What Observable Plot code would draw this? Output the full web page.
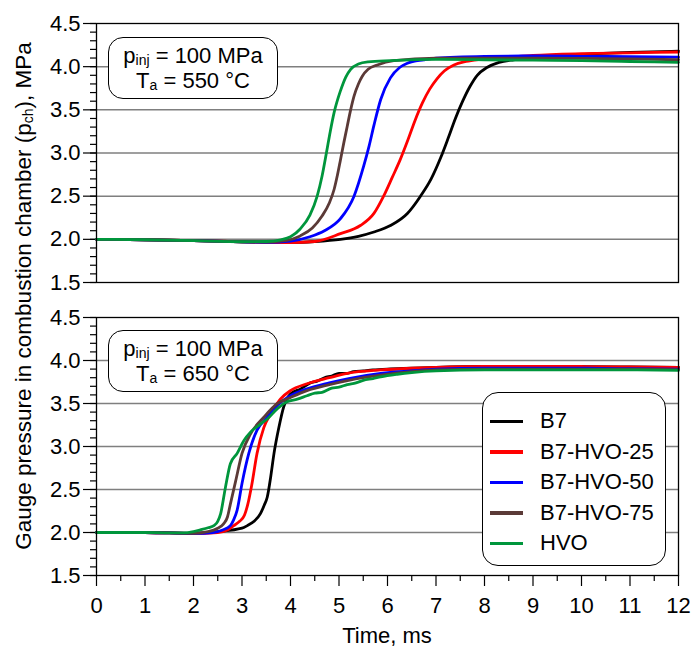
<!DOCTYPE html>
<html><head><meta charset="utf-8">
<script src="https://cdn.jsdelivr.net/npm/d3@7"></script>
<script src="https://cdn.jsdelivr.net/npm/@observablehq/plot@0.6"></script>
<style>
body{margin:0;background:#fff;}
#wrap{position:relative;width:691px;height:647px;font-family:"Liberation Sans",Arial,sans-serif;color:#000;background:#fff;overflow:hidden;}
#wrap svg{position:absolute;left:0;}
.ann{position:absolute;box-sizing:border-box;border:1.3px solid #000;border-radius:15px;background:#fff;font-size:22px;text-align:center;line-height:25px;padding-top:4.5px;white-space:nowrap;}
.ann sub,.ylab sub{font-size:14px;vertical-align:-2px;line-height:0;}
.ylab{position:absolute;width:600px;left:-276px;top:283px;height:26px;line-height:26px;font-size:22.5px;text-align:center;transform:rotate(-90deg);white-space:nowrap;}
.xlab{position:absolute;width:400px;left:187px;top:623px;line-height:26px;font-size:22px;text-align:center;}
.legend{position:absolute;left:482px;top:392px;width:184px;height:174px;box-sizing:border-box;border:1.3px solid #000;border-radius:16px;background:#fff;padding-top:13px;font-size:22px;}
.legend .row{height:30.6px;line-height:30.6px;display:flex;align-items:center;}
.legend .sw{width:33px;height:3.5px;margin-left:7px;margin-right:17px;}
</style>
</head><body>
<div id="wrap"></div>
<script>
const seriesNames = ["B7", "B7-HVO-25", "B7-HVO-50", "B7-HVO-75", "HVO"];
const seriesColors = ["#000000", "#ff0000", "#0000ff", "#5b3a37", "#00963c"];

const yMajor = [1.5, 2.0, 2.5, 3.0, 3.5, 4.0, 4.5];
const yGrid = [2.0, 2.5, 3.0, 3.5, 4.0];
const xMajor = [0, 1, 2, 3, 4, 5, 6, 7, 8, 9, 10, 11, 12];

// Ta = 550 °C  [time ms, pressure MPa]
const b7_550 = [[0,2.0],[1,1.995],[2,1.985],[3,1.972],[4,1.965],[4.5,1.975],[5.03,2.0],[5.4,2.035],[5.72,2.085],[6.06,2.16],[6.41,2.3],[6.68,2.5],[6.9,2.7],[7.1,2.95],[7.25,3.17],[7.4,3.4],[7.55,3.6],[7.7,3.77],[7.85,3.9],[8.05,3.99],[8.3,4.05],[8.6,4.08],[9,4.1],[10,4.14],[11,4.165],[12,4.18]];
const b25_550 = [[0,2.0],[1,1.995],[2,1.985],[3,1.972],[4,1.963],[4.5,1.975],[5.03,2.066],[5.44,2.16],[5.72,2.3],[5.92,2.5],[6.1,2.72],[6.26,2.92],[6.42,3.15],[6.57,3.38],[6.72,3.58],[6.87,3.74],[7.02,3.86],[7.17,3.95],[7.37,4.02],[7.62,4.06],[7.9,4.085],[8.5,4.11],[9,4.13],[10,4.15],[11,4.16],[12,4.17]];
const b50_550 = [[0,2.0],[1,1.995],[2,1.985],[3,1.97],[3.5,1.966],[4.0,1.98],[4.4,2.03],[4.7,2.1],[5.03,2.24],[5.31,2.5],[5.51,2.85],[5.62,3.08],[5.72,3.32],[5.86,3.62],[6.06,3.87],[6.25,3.99],[6.41,4.04],[6.75,4.08],[7,4.1],[8,4.12],[9,4.125],[10,4.12],[11,4.115],[12,4.11]];
const b75_550 = [[0,2.0],[1,1.995],[2,1.985],[3,1.972],[3.5,1.968],[3.9,1.985],[4.2,2.04],[4.45,2.13],[4.65,2.27],[4.8,2.42],[4.9,2.58],[4.97,2.75],[5.03,2.92],[5.1,3.12],[5.17,3.31],[5.24,3.5],[5.31,3.66],[5.4,3.8],[5.48,3.89],[5.6,3.97],[5.79,4.02],[6.13,4.07],[7,4.1],[8,4.1],[9,4.1],[10,4.095],[11,4.09],[12,4.08]];
const hvo_550 = [[0,2.0],[1,1.995],[2,1.985],[3,1.972],[3.5,1.975],[3.8,1.995],[4.0,2.03],[4.2,2.12],[4.4,2.28],[4.55,2.5],[4.65,2.73],[4.74,3.0],[4.82,3.25],[4.9,3.47],[5.03,3.72],[5.14,3.88],[5.24,3.97],[5.4,4.03],[5.6,4.055],[6.06,4.07],[7,4.085],[8,4.08],[9,4.075],[10,4.07],[11,4.06],[12,4.05]];

// Ta = 650 °C
const b7_650 = [[0,2.0],[1,2.0],[1.5,1.995],[2,1.99],[2.5,2.01],[3.0,2.05],[3.11,2.08],[3.25,2.13],[3.38,2.22],[3.46,2.32],[3.52,2.41],[3.59,2.64],[3.66,2.92],[3.76,3.22],[3.86,3.46],[4.0,3.61],[4.21,3.67],[4.41,3.74],[4.55,3.76],[4.7,3.8],[4.85,3.82],[5.0,3.85],[5.15,3.85],[5.3,3.87],[5.5,3.88],[5.7,3.89],[6,3.9],[6.5,3.91],[7,3.92],[8,3.93],[9,3.93],[10,3.93],[11,3.925],[12,3.92]];
const b25_650 = [[0,2.0],[1,2.0],[1.5,1.995],[2,1.99],[2.5,2.0],[2.7,2.03],[2.83,2.08],[2.95,2.13],[3.05,2.2],[3.12,2.33],[3.2,2.55],[3.31,2.92],[3.45,3.22],[3.59,3.38],[3.79,3.55],[4.0,3.65],[4.34,3.73],[4.8,3.8],[5.17,3.85],[5.86,3.89],[6.5,3.91],[7,3.92],[8,3.93],[9,3.93],[10,3.93],[11,3.925],[12,3.92]];
const b50_650 = [[0,2.0],[1,2.0],[1.5,1.995],[2,1.99],[2.4,2.0],[2.6,2.03],[2.76,2.08],[2.83,2.15],[2.9,2.26],[3.0,2.57],[3.14,2.92],[3.31,3.19],[3.52,3.34],[3.73,3.48],[4.0,3.59],[4.34,3.67],[4.8,3.74],[5.2,3.79],[5.86,3.85],[6.5,3.88],[7,3.9],[8,3.91],[9,3.91],[10,3.91],[11,3.905],[12,3.9]];
const b75_650 = [[0,2.0],[1,2.0],[1.5,1.995],[2,1.99],[2.3,2.01],[2.5,2.05],[2.62,2.1],[2.7,2.18],[2.76,2.33],[2.87,2.6],[3.0,2.92],[3.18,3.15],[3.45,3.34],[3.73,3.5],[4.0,3.57],[4.34,3.65],[4.8,3.72],[5.2,3.77],[5.86,3.83],[6.5,3.87],[7,3.89],[8,3.9],[9,3.9],[10,3.9],[11,3.9],[12,3.895]];
const hvo_650 = [[0,2.0],[1,2.0],[1.5,1.995],[1.8,1.995],[2.0,2.01],[2.14,2.03],[2.3,2.055],[2.42,2.08],[2.5,2.13],[2.56,2.22],[2.66,2.53],[2.76,2.8],[2.9,2.92],[3.04,3.07],[3.18,3.17],[3.38,3.26],[3.52,3.32],[3.73,3.44],[3.93,3.52],[4.14,3.55],[4.34,3.59],[4.5,3.62],[4.65,3.63],[4.85,3.68],[5.0,3.69],[5.17,3.72],[5.35,3.74],[5.5,3.77],[5.7,3.79],[5.86,3.81],[6.2,3.84],[6.5,3.86],[7,3.88],[8,3.89],[9,3.89],[10,3.89],[11,3.89],[12,3.885]];

const panel550 = [b7_550, b25_550, b50_550, b75_550, hvo_550];
const panel650 = [b7_650, b25_650, b50_650, b75_650, hvo_650];

const yMinor = d3.range(15, 46).map(d => d / 10);
const xMinor = d3.range(0, 12).map(d => d + 0.5);

function toRows(panel) {
  return panel.flatMap((arr, i) => arr.map(([t, p]) => ({s: seriesNames[i], t, p})));
}

function makePanel(panel, height, mt, mb, showX) {
  const marks = [
    Plot.gridY(yGrid, {stroke: "#7f7f7f", strokeOpacity: 1, strokeWidth: 1.5}),
    Plot.axisY({ticks: yMinor, tickSize: 6, text: null, strokeWidth: 1.2, label: null}),
    Plot.axisY({ticks: yMajor, tickSize: 13, tickPadding: 3, tickFormat: d3.format(".1f"), strokeWidth: 1.2, label: null}),
    Plot.line(toRows(panel), {x: "t", y: "p", z: "s", stroke: "s", curve: "monotone-x", strokeWidth: 2.8}),
    Plot.frame({stroke: "#000", strokeWidth: 1.3})
  ];
  if (showX) {
    marks.push(Plot.axisX({ticks: xMinor, tickSize: 6, text: null, strokeWidth: 1.2, label: null}));
    marks.push(Plot.axisX({ticks: xMajor, tickSize: 11, tickPadding: 11, strokeWidth: 1.2, label: null}));
  }
  return Plot.plot({
    width: 691, height, marginLeft: 96, marginRight: 13, marginTop: mt, marginBottom: mb,
    style: {fontFamily: "'Liberation Sans', Arial, sans-serif", fontSize: "22px", background: "transparent", color: "#000", overflow: "visible"},
    x: {domain: [0, 12], axis: showX ? undefined : null},
    y: {domain: [1.5, 4.5]},
    color: {domain: seriesNames, range: seriesColors},
    marks
  });
}

const wrap = document.getElementById("wrap");
const topPlot = makePanel(panel550, 300, 23, 18, false);
topPlot.style.top = "0px";
const botPlot = makePanel(panel650, 347, 17, 72, true);
botPlot.style.top = "300px";
wrap.appendChild(topPlot);
wrap.appendChild(botPlot);

function addAnn(topPx, temp) {
  const d = document.createElement("div");
  d.className = "ann";
  d.style.left = "108px"; d.style.top = topPx + "px"; d.style.width = "170px"; d.style.height = "62px";
  d.innerHTML = `<div>p<sub>inj</sub> = 100 MPa</div><div>T<sub>a</sub> = ${temp} °C</div>`;
  wrap.appendChild(d);
}
addAnn(37, 550);
addAnn(330, 650);

const yl = document.createElement("div");
yl.className = "ylab";
yl.innerHTML = "Gauge pressure in combustion chamber (p<sub>ch</sub>), MPa";
wrap.appendChild(yl);

const xl = document.createElement("div");
xl.className = "xlab";
xl.textContent = "Time, ms";
wrap.appendChild(xl);

const lg = document.createElement("div");
lg.className = "legend";
lg.innerHTML = seriesNames.map((n, i) => `<div class="row"><span class="sw" style="background:${seriesColors[i]}"></span><span>${n}</span></div>`).join("");
wrap.appendChild(lg);
</script>
</body></html>
